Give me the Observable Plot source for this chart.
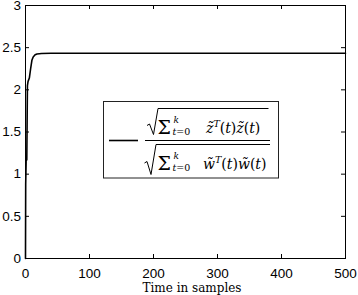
<!DOCTYPE html>
<html>
<head>
<meta charset="utf-8">
<script src="https://cdn.jsdelivr.net/npm/d3@7"></script>
<script src="https://cdn.jsdelivr.net/npm/@observablehq/plot@0.6"></script>
<style>
  html, body { margin: 0; padding: 0; background: white; }
  #wrap { position: relative; width: 358px; height: 295px; overflow: hidden; }
  #legend { position: absolute; left: 0; top: 0; pointer-events: none; }
  #legend text { font-family: "DejaVu Serif", serif; fill: black; }
</style>
</head>
<body>
<div id="wrap"></div>
<script>
// Samples (time) and ratio values
const time   = [0, 0.3, 1, 2, 3, 4, 6, 8, 10, 12, 15, 18, 25, 40, 70, 100, 200, 300, 400, 500];
const ratio  = [0, 0.88, 1.16, 1.17, 2.05, 2.1, 2.14, 2.25, 2.35, 2.39, 2.415, 2.425, 2.43, 2.433, 2.434, 2.434, 2.434, 2.434, 2.434, 2.434];
const xTicks = [0, 100, 200, 300, 400, 500];
const yTicks = [0, 0.5, 1, 1.5, 2, 2.5, 3];
const xLabel = "Time in samples";

const data = time.map((t, i) => ({t, v: ratio[i]}));

const chart = Plot.plot({
  width: 358, height: 295,
  marginLeft: 25, marginRight: 13, marginTop: 5, marginBottom: 37,
  x: {domain: [0, 500]},
  y: {domain: [0, 3]},
  style: {fontFamily: "'Liberation Sans', Arial, sans-serif", fontSize: "13.5px", color: "black", background: "white"},
  marks: [
    Plot.axisX(xTicks, {tickSize: 0, tickPadding: 9.5, label: null, tickFormat: d => String(d)}),
    Plot.axisY(yTicks, {tickSize: 0, tickPadding: 4.5, label: null, tickFormat: d => String(d)}),
    Plot.tickX(xTicks, {x: d => d, insetTop: 249, stroke: "black"}),
    Plot.tickX(xTicks, {x: d => d, insetBottom: 249, stroke: "black"}),
    Plot.tickY(yTicks, {y: d => d, insetRight: 316, stroke: "black"}),
    Plot.tickY(yTicks, {y: d => d, insetLeft: 316, stroke: "black"}),
    Plot.line(data, {x: "t", y: "v", stroke: "black", strokeWidth: 1.6}),
    Plot.frame({stroke: "black", strokeWidth: 1}),
    Plot.text([xLabel], {text: d => d, frameAnchor: "bottom", lineAnchor: "bottom", dy: 33, dx: 6.5,
      fontFamily: "'DejaVu Serif', serif", fontSize: 12})
  ]
});

const wrap = document.getElementById("wrap");
wrap.appendChild(chart);

// Legend (box, swatch, formula) drawn as an overlay
function row(base, letter) {
  return `
  <text x="157.5" y="${base + 1}" font-size="19">Σ</text>
  <text x="173.5" y="${base - 10}" font-size="9" font-style="italic">k</text>
  <text x="172.5" y="${base + 2.5}" font-size="9.5"><tspan font-style="italic">t</tspan>=0</text>
  <text x="${letter === 'z' ? 206 : 203}" y="${base}" font-size="14">` +
    `<tspan font-style="italic">${letter}\u0303</tspan><tspan font-size="9.5" font-style="italic" dy="-6">T</tspan>` +
    `<tspan dy="6">(</tspan><tspan font-style="italic">t</tspan><tspan>)</tspan>` +
    `<tspan font-style="italic">${letter}\u0303</tspan><tspan>(</tspan><tspan font-style="italic">t</tspan><tspan>)</tspan></text>`;
}
const ns = "http://www.w3.org/2000/svg";
const leg = document.createElementNS(ns, "svg");
leg.setAttribute("id", "legend");
leg.setAttribute("width", 358);
leg.setAttribute("height", 295);
leg.innerHTML = `
  <rect x="103.5" y="101.5" width="175" height="76.5" fill="white" stroke="#222" stroke-width="1"/>
  <line x1="109" x2="138" y1="140.5" y2="140.5" stroke="black" stroke-width="1.6"/>
  <line x1="145" x2="270" y1="140.5" y2="140.5" stroke="black" stroke-width="1"/>
  <path d="M147 125.5 L149.5 124 L153.5 134.5 L158 108.5 L268.5 108.5" fill="none" stroke="black" stroke-width="1"/>
  <path d="M144.5 163 L147 161.5 L151 174.5 L156 144.5 L270 144.5" fill="none" stroke="black" stroke-width="1"/>
  ${row(132.5, 'z')}
  ${row(168.5, 'w')}
`;
wrap.appendChild(leg);
</script>
</body>
</html>
